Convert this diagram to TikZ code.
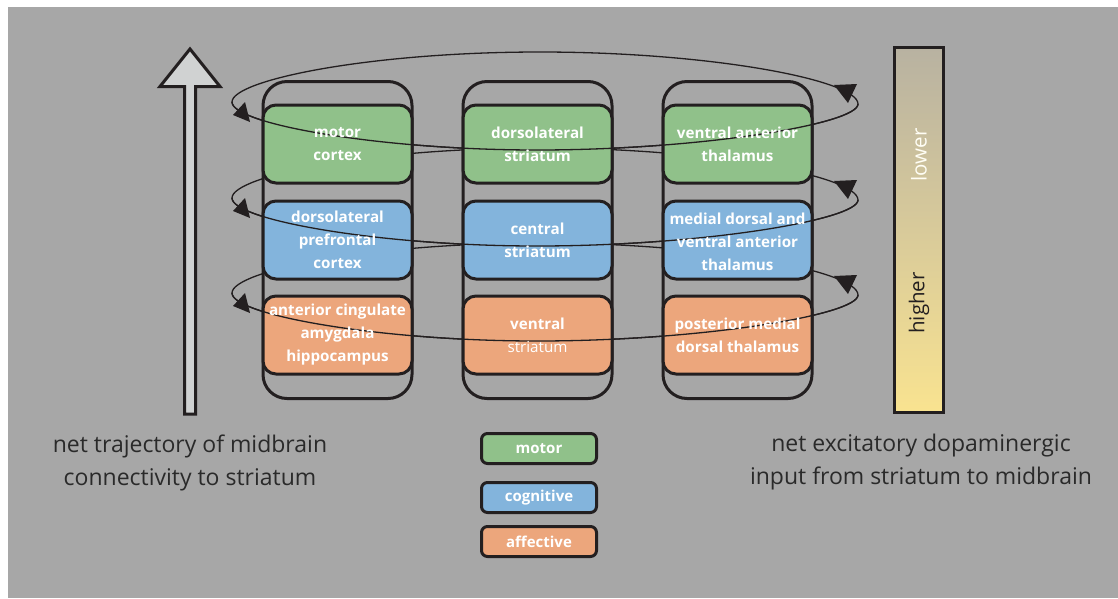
\documentclass[tikz,border=0pt]{standalone}
\usepackage{fontspec}
\setmainfont{Open Sans}
\definecolor{bgc}{HTML}{A7A7A7}
\definecolor{ink}{HTML}{231F20}
\definecolor{gm}{HTML}{90C18A}
\definecolor{bl}{HTML}{83B4DC}
\definecolor{og}{HTML}{ECA67C}
\definecolor{arw}{HTML}{D0D2D2}
\definecolor{bartop}{HTML}{B8B2A1}
\definecolor{barmid}{HTML}{D8CA9A}
\definecolor{barbot}{HTML}{F9E390}
\definecolor{lblc}{HTML}{2A2A2A}
\begin{document}
\begin{tikzpicture}[x=1pt,y=-1pt,
  colframe/.style={draw=ink, line width=3pt, fill=bgc, rounded corners=24pt, minimum width=149pt, minimum height=317pt, inner sep=0pt},
  areabox/.style={draw=ink, line width=3pt, rounded corners=13pt, minimum width=149pt, minimum height=78pt, inner sep=0pt},
  ringline/.style={draw=ink, line width=1.3pt},
  boxtext/.style={text=white, align=center, font=\fontsize{15.2}{23}\selectfont\bfseries, inner sep=0pt},
  legbox/.style={draw=ink, line width=3pt, rounded corners=6pt, minimum width=115pt, minimum height=30pt, inner sep=0pt, text=white, font=\fontsize{15}{18}\selectfont\bfseries},
  sidelabel/.style={text=lblc, align=center, font=\fontsize{23}{33}\selectfont, inner sep=0pt},
]
\useasboundingbox (0,0) rectangle (1118,598);
\fill[white] (0,0) rectangle (1118,598);
\fill[bgc] (8,7) rectangle (1118,598);

% rings (back, full)
\foreach \yc in {144,240,335}{
  \begin{scope}[shift={(0,\yc)}]
    \draw[ringline] (232,-42) .. controls (232,-64) and (370,-92) .. (540,-92)
      .. controls (710,-92) and (858,-64) .. (858,-40)
      .. controls (858,-20) and (700,6) .. (537,6)
      .. controls (380,6) and (232,-20) .. (232,-42) -- cycle;
  \end{scope}
}

% columns
\node[colframe] (col1) at (337.5,240) {};
\node[colframe] (col2) at (537.5,240) {};
\node[colframe] (col3) at (737.5,240) {};

% region boxes
\node[areabox, fill=gm] (b11) at (337.5,144) {};
\node[areabox, fill=bl] (b12) at (337.5,240) {};
\node[areabox, fill=og] (b13) at (337.5,335) {};
\node[areabox, fill=gm] (b21) at (537.5,144) {};
\node[areabox, fill=bl] (b22) at (537.5,240) {};
\node[areabox, fill=og] (b23) at (537.5,335) {};
\node[areabox, fill=gm] (b31) at (737.5,144) {};
\node[areabox, fill=bl] (b32) at (737.5,240) {};
\node[areabox, fill=og] (b33) at (737.5,335) {};

% ring fronts and arrowheads
\foreach \yc in {144,240,335}{
  \begin{scope}[shift={(0,\yc)}]
    \draw[ringline] (858,-40) .. controls (858,-20) and (700,6) .. (537,6)
      .. controls (380,6) and (232,-20) .. (232,-42);
    \fill[ink] (245,-42) -- (233,-29) -- (250,-22) -- cycle;
    \fill[ink] (834,-59) -- (857,-60) -- (848,-41) -- cycle;
  \end{scope}
}

% texts
\node[boxtext] (t11) at (b11) {motor\\cortex};
\node[boxtext] (t12) at (b12) {dorsolateral\\prefrontal\\cortex};
\node[boxtext] (t13) at (b13) {anterior cingulate\\amygdala\\hippocampus};
\node[boxtext] (t21) at (b21) {dorsolateral\\striatum};
\node[boxtext] (t22) at (b22) {central\\striatum};
\node[boxtext] (t23) at (b23) {ventral\\{\mdseries striatum}};
\node[boxtext] (t31) at (b31) {ventral anterior\\thalamus};
\node[boxtext] (t32) at ([yshift=-1.5pt]b32) {medial dorsal and\\ventral anterior\\thalamus};
\node[boxtext] (t33) at (b33) {posterior medial\\dorsal thalamus};

% left big arrow
\draw[ink, line width=3pt, fill=arw, line join=miter] (184.5,414) -- (184.5,86.5) -- (160,86.5) -- (190,49) -- (220,86.5) -- (195.5,86.5) -- (195.5,414) -- cycle;

% right bar
\node[draw=ink, line width=3pt, top color=bartop, bottom color=barbot, middle color=barmid, minimum width=49pt, minimum height=365pt, inner sep=0pt] (bar) at (919,230) {};
\node[rotate=90, text=white!96!yellow, font=\fontsize{20.5}{24}\selectfont, inner sep=0pt] (lo) at (919,155) {lower};
\node[rotate=90, text=ink, font=\fontsize{20.5}{24}\selectfont, inner sep=0pt] (hi) at (919,303) {higher};

% side labels
\node[sidelabel] (ll) at (190,463) {net trajectory of midbrain\\connectivity to striatum};
\node[sidelabel] (rl) at (921,462) {net excitatory dopaminergic\\input from striatum to midbrain};

% legend
\node[legbox, fill=gm] (lm) at (539,448.5) {motor};
\node[legbox, fill=bl] (lc) at (539,497.5) {cognitive};
\node[legbox, fill=og] (la) at (539,541.5) {affective};
\end{tikzpicture}
\end{document}
